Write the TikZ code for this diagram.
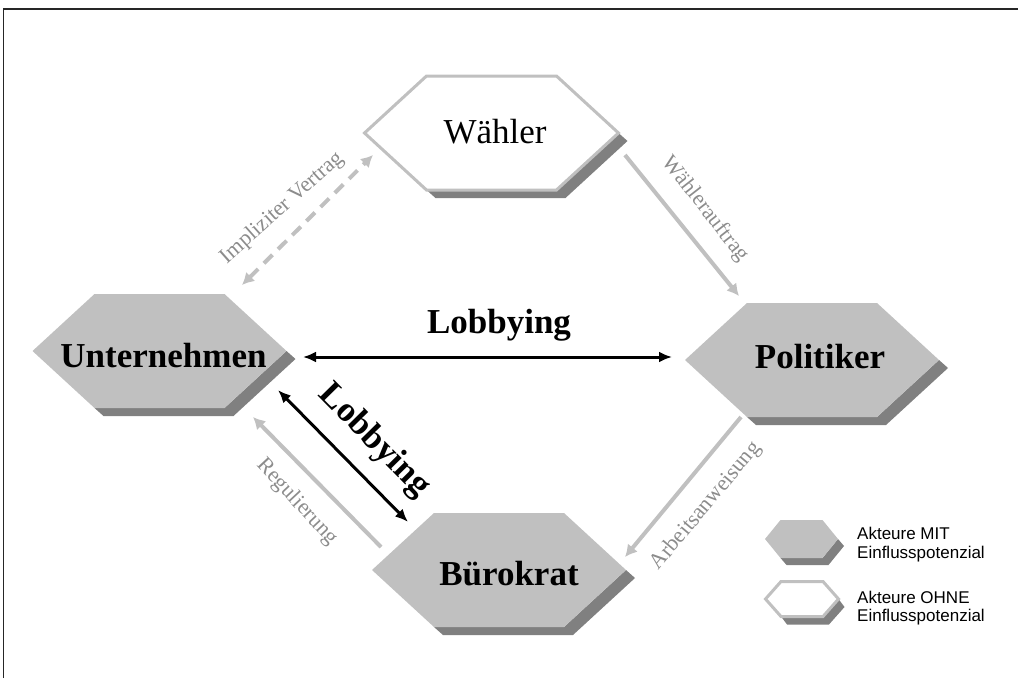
\documentclass[tikz,border=0pt]{standalone}
\usepackage{fontspec}
\setmainfont{Liberation Serif}
\newfontfamily\legendfont{Liberation Sans}
\usetikzlibrary{arrows.meta}
\definecolor{hexfill}{HTML}{C0C0C0}
\definecolor{hexshadow}{HTML}{808080}
\definecolor{arrowgray}{HTML}{C0C0C0}
\definecolor{labelgray}{HTML}{8C8C8C}
% #1 cx, #2 cy, #3 half width, #4 half top edge, #5 half height, #6 dx, #7 dy, #8 style of face
\newcommand\hexa[8]{%
  \fill[hexshadow] ({#1+#3},{#2}) -- ({#1+#3+#6},{#2+#7}) -- ({#1+#4+#6},{#2+#5+#7})
     -- ({#1-#4+#6},{#2+#5+#7}) -- ({#1-#4},{#2+#5}) -- ({#1+#4},{#2+#5}) -- cycle;
  \path[#8] ({#1-#3},{#2}) -- ({#1-#4},{#2-#5}) -- ({#1+#4},{#2-#5}) -- ({#1+#3},{#2})
     -- ({#1+#4},{#2+#5}) -- ({#1-#4},{#2+#5}) -- cycle;}
\begin{document}
\begin{tikzpicture}[x=1pt,y=-1pt,
  gface/.style={fill=hexfill},
  wface/.style={fill=white,draw=hexfill,line width=3pt,line join=miter},
  actorbold/.style={font=\fontsize{35}{40}\selectfont\bfseries,anchor=base,inner sep=0pt},
  actorreg/.style={font=\fontsize{35}{40}\selectfont,anchor=base,inner sep=0pt},
  lobbytext/.style={font=\fontsize{35}{40}\selectfont\bfseries,inner sep=0pt},
  edgelabel/.style={font=\fontsize{22}{26}\selectfont,text=labelgray,inner sep=0pt},
  legendtext/.style={font=\legendfont\fontsize{17}{19.5}\selectfont,anchor=base west,inner sep=0pt},
  blackarrow/.style={line width=3pt,{Latex[length=13pt,width=11pt]}-{Latex[length=13pt,width=11pt]}},
  grayarrow/.style={draw=arrowgray,line width=4pt,-{Latex[length=12pt,width=13pt]}},
  graydash/.style={draw=arrowgray,line width=4pt,dash pattern=on 12pt off 8pt,{Latex[length=12pt,width=13pt]}-{Latex[length=12pt,width=13pt]}}
]
\useasboundingbox (0,0) rectangle (1018,678);
% frame
\draw[line width=1.3pt,draw=black!85] (3.5,678) -- (3.5,9) -- (1018,9);

% hexagons
\hexa{491.5}{133}{127}{65}{57}{9}{8}{wface}
\hexa{159.5}{351}{127}{65}{57}{9}{8}{gface}
\hexa{812}{360}{127}{65}{57}{9}{8}{gface}
\hexa{499}{570}{127}{65}{57}{9}{8}{gface}

\node[actorreg] (waehler) at (495,143) {Wähler};
\node[actorbold] (unternehmen) at (163.5,367) {Unternehmen};
\node[actorbold] (politiker) at (820,368) {Politiker};
\node[actorbold] (buerokrat) at (509,585) {Bürokrat};

% arrow end points
\coordinate (lhA) at (303,357);
\coordinate (lhB) at (672,357);
\coordinate (ldA) at (278,390);
\coordinate (ldB) at (408,522);
\coordinate (ivA) at (242,285);
\coordinate (ivB) at (373,155);
\coordinate (waA) at (625,155);
\coordinate (waB) at (739,296);
\coordinate (aaA) at (741,417);
\coordinate (aaB) at (625,557);
\coordinate (reA) at (381,547);
\coordinate (reB) at (253,417);

\draw[blackarrow] (lhA) -- (lhB);
\draw[blackarrow] (ldA) -- (ldB);
\draw[graydash] (ivA) -- (ivB);
\draw[grayarrow] (waA) -- (waB);
\draw[grayarrow] (aaA) -- (aaB);
\draw[grayarrow] (reA) -- (reB);

\node[lobbytext,anchor=base] (lobbyh) at (499,333) {Lobbying};
\node[lobbytext,rotate=-45.5] (lobbyd) at (374,441) {Lobbying};
\node[edgelabel,rotate=41.6] (implizit) at (282,208) {Impliziter Vertrag};
\node[edgelabel,rotate=-52] (wauftrag) at (705,209) {Wählerauftrag};
\node[edgelabel,rotate=50] (anweisung) at (706,506) {Arbeitsanweisung};
\node[edgelabel,rotate=-47] (regul) at (297,502) {Regulierung};

% legend
\hexa{801.5}{539}{36.5}{21}{19}{6}{7}{gface}
\hexa{802}{599}{36.5}{21}{17.5}{6}{8}{wface}
\node[legendtext] (legA1) at (857,539) {Akteure MIT};
\node[legendtext] (legA2) at (857,558) {Einflusspotenzial};
\node[legendtext] (legB1) at (857,603) {Akteure OHNE};
\node[legendtext] (legB2) at (857,621) {Einflusspotenzial};
\end{tikzpicture}
\end{document}
